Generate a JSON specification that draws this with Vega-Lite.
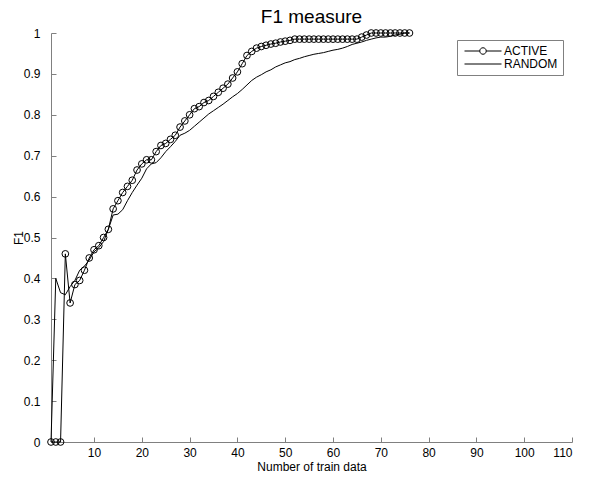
{
  "$schema": "https://vega.github.io/schema/vega-lite/v6.json",
  "width": 521,
  "height": 409,
  "autosize": {"type": "none"},
  "padding": {"left": 51, "top": 33, "right": 25, "bottom": 35},
  "background": "white",
  "config": {
    "font": "Liberation Sans",
    "view": {"stroke": null},
    "axis": {
      "grid": false,
      "domainColor": "#808080",
      "tickColor": "#808080",
      "tickSize": -5,
      "labelColor": "black",
      "labelFontSize": 12,
      "labelFont": "Liberation Sans",
      "titleColor": "black",
      "titleFontSize": 12,
      "titleFontWeight": "normal",
      "titleFont": "Liberation Sans"
    }
  },
  "title": {
    "text": "F1 measure",
    "fontSize": 19,
    "fontWeight": "normal",
    "color": "black",
    "font": "Liberation Sans",
    "anchor": "middle",
    "offset": 0
  },
  "data": {
    "values": [
      {"n":1,"F1":0,"series":"ACTIVE"},{"n":2,"F1":0,"series":"ACTIVE"},{"n":3,"F1":0,"series":"ACTIVE"},{"n":4,"F1":0.46,"series":"ACTIVE"},{"n":5,"F1":0.34,"series":"ACTIVE"},{"n":6,"F1":0.385,"series":"ACTIVE"},{"n":7,"F1":0.395,"series":"ACTIVE"},{"n":8,"F1":0.42,"series":"ACTIVE"},{"n":9,"F1":0.45,"series":"ACTIVE"},{"n":10,"F1":0.47,"series":"ACTIVE"},
      {"n":11,"F1":0.48,"series":"ACTIVE"},{"n":12,"F1":0.5,"series":"ACTIVE"},{"n":13,"F1":0.52,"series":"ACTIVE"},{"n":14,"F1":0.57,"series":"ACTIVE"},{"n":15,"F1":0.59,"series":"ACTIVE"},{"n":16,"F1":0.61,"series":"ACTIVE"},{"n":17,"F1":0.625,"series":"ACTIVE"},{"n":18,"F1":0.64,"series":"ACTIVE"},{"n":19,"F1":0.665,"series":"ACTIVE"},{"n":20,"F1":0.68,"series":"ACTIVE"},
      {"n":21,"F1":0.69,"series":"ACTIVE"},{"n":22,"F1":0.69,"series":"ACTIVE"},{"n":23,"F1":0.71,"series":"ACTIVE"},{"n":24,"F1":0.725,"series":"ACTIVE"},{"n":25,"F1":0.73,"series":"ACTIVE"},{"n":26,"F1":0.74,"series":"ACTIVE"},{"n":27,"F1":0.75,"series":"ACTIVE"},{"n":28,"F1":0.77,"series":"ACTIVE"},{"n":29,"F1":0.785,"series":"ACTIVE"},{"n":30,"F1":0.8,"series":"ACTIVE"},
      {"n":31,"F1":0.815,"series":"ACTIVE"},{"n":32,"F1":0.82,"series":"ACTIVE"},{"n":33,"F1":0.83,"series":"ACTIVE"},{"n":34,"F1":0.835,"series":"ACTIVE"},{"n":35,"F1":0.845,"series":"ACTIVE"},{"n":36,"F1":0.855,"series":"ACTIVE"},{"n":37,"F1":0.865,"series":"ACTIVE"},{"n":38,"F1":0.875,"series":"ACTIVE"},{"n":39,"F1":0.89,"series":"ACTIVE"},{"n":40,"F1":0.905,"series":"ACTIVE"},
      {"n":41,"F1":0.925,"series":"ACTIVE"},{"n":42,"F1":0.945,"series":"ACTIVE"},{"n":43,"F1":0.955,"series":"ACTIVE"},{"n":44,"F1":0.963,"series":"ACTIVE"},{"n":45,"F1":0.967,"series":"ACTIVE"},{"n":46,"F1":0.97,"series":"ACTIVE"},{"n":47,"F1":0.973,"series":"ACTIVE"},{"n":48,"F1":0.975,"series":"ACTIVE"},{"n":49,"F1":0.978,"series":"ACTIVE"},{"n":50,"F1":0.98,"series":"ACTIVE"},
      {"n":51,"F1":0.982,"series":"ACTIVE"},{"n":52,"F1":0.985,"series":"ACTIVE"},{"n":53,"F1":0.985,"series":"ACTIVE"},{"n":54,"F1":0.985,"series":"ACTIVE"},{"n":55,"F1":0.985,"series":"ACTIVE"},{"n":56,"F1":0.985,"series":"ACTIVE"},{"n":57,"F1":0.985,"series":"ACTIVE"},{"n":58,"F1":0.985,"series":"ACTIVE"},{"n":59,"F1":0.985,"series":"ACTIVE"},{"n":60,"F1":0.985,"series":"ACTIVE"},
      {"n":61,"F1":0.985,"series":"ACTIVE"},{"n":62,"F1":0.985,"series":"ACTIVE"},{"n":63,"F1":0.985,"series":"ACTIVE"},{"n":64,"F1":0.985,"series":"ACTIVE"},{"n":65,"F1":0.985,"series":"ACTIVE"},{"n":66,"F1":0.99,"series":"ACTIVE"},{"n":67,"F1":0.995,"series":"ACTIVE"},{"n":68,"F1":1,"series":"ACTIVE"},{"n":69,"F1":1,"series":"ACTIVE"},{"n":70,"F1":1,"series":"ACTIVE"},
      {"n":71,"F1":1,"series":"ACTIVE"},{"n":72,"F1":1,"series":"ACTIVE"},{"n":73,"F1":1,"series":"ACTIVE"},{"n":74,"F1":1,"series":"ACTIVE"},{"n":75,"F1":1,"series":"ACTIVE"},{"n":76,"F1":1,"series":"ACTIVE"},
      {"n":1,"F1":0,"series":"RANDOM"},{"n":2,"F1":0.4,"series":"RANDOM"},{"n":3,"F1":0.365,"series":"RANDOM"},{"n":4,"F1":0.36,"series":"RANDOM"},{"n":5,"F1":0.38,"series":"RANDOM"},{"n":6,"F1":0.395,"series":"RANDOM"},{"n":7,"F1":0.42,"series":"RANDOM"},{"n":8,"F1":0.43,"series":"RANDOM"},{"n":9,"F1":0.445,"series":"RANDOM"},{"n":10,"F1":0.465,"series":"RANDOM"},
      {"n":11,"F1":0.475,"series":"RANDOM"},{"n":12,"F1":0.49,"series":"RANDOM"},{"n":13,"F1":0.52,"series":"RANDOM"},{"n":14,"F1":0.555,"series":"RANDOM"},{"n":15,"F1":0.557,"series":"RANDOM"},{"n":16,"F1":0.568,"series":"RANDOM"},{"n":17,"F1":0.59,"series":"RANDOM"},{"n":18,"F1":0.61,"series":"RANDOM"},{"n":19,"F1":0.628,"series":"RANDOM"},{"n":20,"F1":0.645,"series":"RANDOM"},
      {"n":21,"F1":0.668,"series":"RANDOM"},{"n":22,"F1":0.68,"series":"RANDOM"},{"n":23,"F1":0.683,"series":"RANDOM"},{"n":24,"F1":0.695,"series":"RANDOM"},{"n":25,"F1":0.71,"series":"RANDOM"},{"n":26,"F1":0.722,"series":"RANDOM"},{"n":27,"F1":0.735,"series":"RANDOM"},{"n":28,"F1":0.75,"series":"RANDOM"},{"n":29,"F1":0.755,"series":"RANDOM"},{"n":30,"F1":0.762,"series":"RANDOM"},
      {"n":31,"F1":0.772,"series":"RANDOM"},{"n":32,"F1":0.782,"series":"RANDOM"},{"n":33,"F1":0.792,"series":"RANDOM"},{"n":34,"F1":0.802,"series":"RANDOM"},{"n":35,"F1":0.81,"series":"RANDOM"},{"n":36,"F1":0.818,"series":"RANDOM"},{"n":37,"F1":0.826,"series":"RANDOM"},{"n":38,"F1":0.835,"series":"RANDOM"},{"n":39,"F1":0.844,"series":"RANDOM"},{"n":40,"F1":0.852,"series":"RANDOM"},
      {"n":41,"F1":0.862,"series":"RANDOM"},{"n":42,"F1":0.873,"series":"RANDOM"},{"n":43,"F1":0.884,"series":"RANDOM"},{"n":44,"F1":0.892,"series":"RANDOM"},{"n":45,"F1":0.898,"series":"RANDOM"},{"n":46,"F1":0.905,"series":"RANDOM"},{"n":47,"F1":0.91,"series":"RANDOM"},{"n":48,"F1":0.917,"series":"RANDOM"},{"n":49,"F1":0.922,"series":"RANDOM"},{"n":50,"F1":0.927,"series":"RANDOM"},
      {"n":51,"F1":0.93,"series":"RANDOM"},{"n":52,"F1":0.935,"series":"RANDOM"},{"n":53,"F1":0.938,"series":"RANDOM"},{"n":54,"F1":0.942,"series":"RANDOM"},{"n":55,"F1":0.945,"series":"RANDOM"},{"n":56,"F1":0.948,"series":"RANDOM"},{"n":57,"F1":0.95,"series":"RANDOM"},{"n":58,"F1":0.952,"series":"RANDOM"},{"n":59,"F1":0.955,"series":"RANDOM"},{"n":60,"F1":0.958,"series":"RANDOM"},
      {"n":61,"F1":0.96,"series":"RANDOM"},{"n":62,"F1":0.963,"series":"RANDOM"},{"n":63,"F1":0.967,"series":"RANDOM"},{"n":64,"F1":0.972,"series":"RANDOM"},{"n":65,"F1":0.975,"series":"RANDOM"},{"n":66,"F1":0.978,"series":"RANDOM"},{"n":67,"F1":0.982,"series":"RANDOM"},{"n":68,"F1":0.985,"series":"RANDOM"},{"n":69,"F1":0.988,"series":"RANDOM"},{"n":70,"F1":0.99,"series":"RANDOM"},
      {"n":71,"F1":0.99,"series":"RANDOM"},{"n":72,"F1":0.992,"series":"RANDOM"},{"n":73,"F1":0.995,"series":"RANDOM"},{"n":74,"F1":0.997,"series":"RANDOM"},{"n":75,"F1":1,"series":"RANDOM"},{"n":76,"F1":1,"series":"RANDOM"}
    ]
  },
  "encoding": {
    "x": {
      "field": "n",
      "type": "quantitative",
      "scale": {"domain": [1, 110], "nice": false, "zero": false},
      "axis": {"values": [10, 20, 30, 40, 50, 60, 70, 80, 90, 100, 110], "title": "Number of train data", "labelPadding": 10, "titlePadding": 3}
    },
    "y": {
      "field": "F1",
      "type": "quantitative",
      "scale": {"domain": [0, 1], "nice": false},
      "axis": {"values": [0, 0.1, 0.2, 0.3, 0.4, 0.5, 0.6, 0.7, 0.8, 0.9, 1], "format": "~g", "title": "F1", "labelPadding": 16, "titleX": -26, "titleBaseline": "bottom"}
    }
  },
  "layer": [
    {
      "mark": {"type": "line", "strokeWidth": 1},
      "encoding": {
        "color": {
          "field": "series",
          "type": "nominal",
          "scale": {"domain": ["ACTIVE", "RANDOM"], "range": ["black", "black"]},
          "legend": {
            "title": null,
            "orient": "none",
            "legendX": 406,
            "legendY": 7,
            "strokeColor": "#808080",
            "fillColor": "white",
            "padding": 5,
            "labelFontSize": 12,
            "labelColor": "black",
            "labelFont": "Liberation Sans",
            "symbolSize": 100,
            "symbolOffset": 15,
            "labelOffset": 15,
            "rowPadding": 1,
            "encode": {
              "symbols": {
                "update": {
                  "shape": {"signal": "datum.value === 'ACTIVE' ? 'M-3.7,0H-0.65M0.65,0H3.7M0.65,0A0.65,0.65,0,1,1,-0.65,0A0.65,0.65,0,1,1,0.65,0' : 'M-3.7,0H3.7'"},
                  "stroke": {"value": "black"},
                  "fill": {"value": "transparent"},
                  "strokeWidth": {"value": 1}
                }
              }
            }
          }
        }
      }
    },
    {
      "transform": [{"filter": "datum.series === 'ACTIVE'"}],
      "mark": {"type": "point", "shape": "circle", "size": 45, "filled": false, "stroke": "black", "strokeWidth": 1, "opacity": 1}
    }
  ]
}
